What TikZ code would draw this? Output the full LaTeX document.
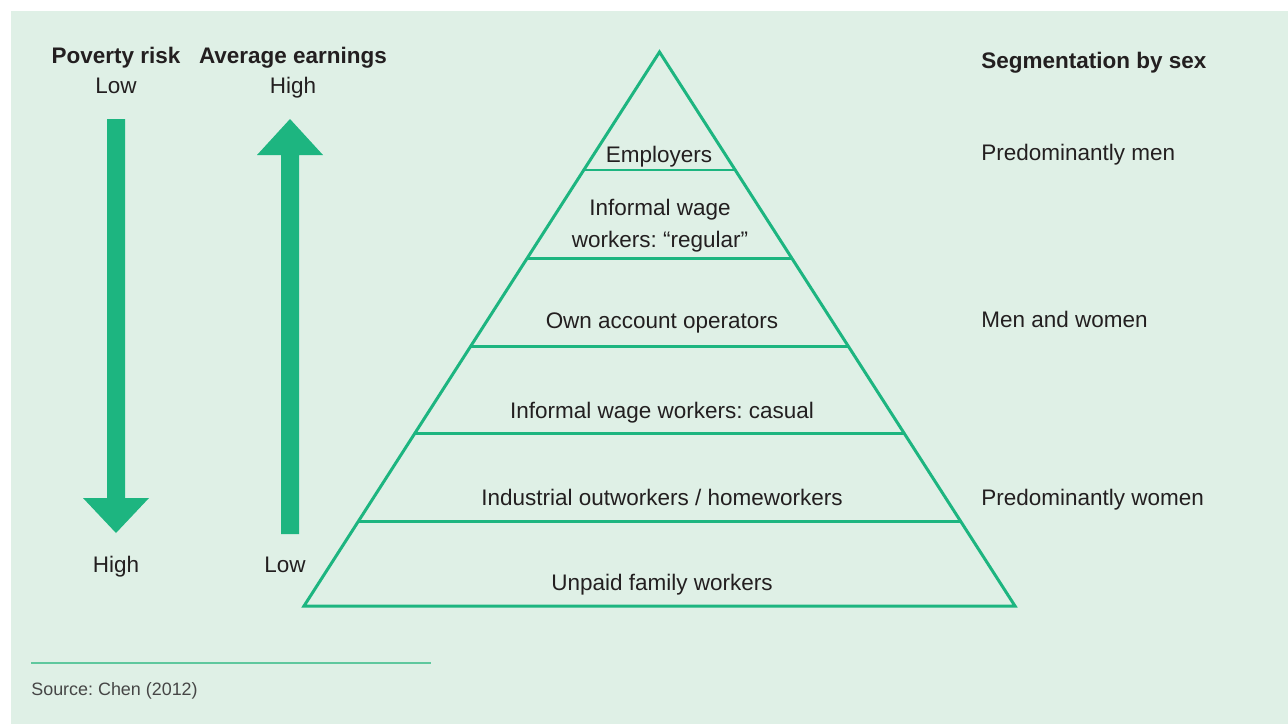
\documentclass[tikz,border=0pt]{standalone}
\usepackage{fontspec}
\setmainfont{Liberation Sans}
\frenchspacing
\definecolor{bggreen}{RGB}{223,240,230}
\definecolor{pyrgreen}{RGB}{29,181,128}
\definecolor{rulegreen}{RGB}{95,200,158}
\definecolor{txtdark}{RGB}{35,31,32}
\definecolor{txtgray}{RGB}{70,70,70}

\begin{document}
\begin{tikzpicture}[x=0.02cm, y=-0.02cm,
    lbl/.style={text=txtdark, inner sep=0pt, anchor=base,
        font=\fontsize{12.8}{18.2}\selectfont},
    hdr/.style={lbl, font=\fontsize{12.8}{18.2}\selectfont\bfseries},
    pyr/.style={draw=pyrgreen, line width=1.7pt, line join=miter},
    bigarrow/.style={fill=pyrgreen, draw=none}]
    % canvas and panel
    \useasboundingbox (0,0) rectangle (1288,724);
    \fill[bggreen] (11,11) rectangle (1288,724);

    % pyramid: apex and base corners
    \pgfmathsetmacro{\apexX}{659.5}
    \pgfmathsetmacro{\apexY}{52}
    \pgfmathsetmacro{\slope}{0.6417}  % half width per unit of height
    \coordinate (apex) at (\apexX,\apexY);
    \coordinate (baseL) at (304,606);
    \coordinate (baseR) at (1015,606);
    \draw[pyr] (apex) -- (baseR) -- (baseL) -- cycle;
    % level lines between the layers
    \foreach \yy in {170,258,346,433,521} {
        \pgfmathsetmacro{\hw}{\slope*(\yy-\apexY)}
        \draw[pyr] (\apexX-\hw,\yy) -- (\apexX+\hw,\yy);
    }

    % layer labels (multi-line node sits on its last baseline)
    \node[lbl] (employers) at (659,162) {Employers};
    \node[lbl, align=center] (regular) at (660,247) {Informal wage\\workers: “regular”};
    \node[lbl] (ownacc) at (662,328) {Own account operators};
    \node[lbl] (casual) at (662,418) {Informal wage workers: casual};
    \node[lbl] (outwork) at (662,505) {Industrial outworkers / homeworkers};
    \node[lbl] (unpaid) at (662,590) {Unpaid family workers};

    % segmentation by sex
    \node[hdr, anchor=base west] (seghdr) at (981,68) {Segmentation by sex};
    \node[lbl, anchor=base west] (segmen) at (981,160) {Predominantly men};
    \node[lbl, anchor=base west] (segboth) at (981,327) {Men and women};
    \node[lbl, anchor=base west] (segwomen) at (981,505) {Predominantly women};

    % poverty risk: arrow pointing down
    \node[hdr] (povhdr) at (116,63) {Poverty risk};
    \node[lbl] (povlow) at (116,93) {Low};
    \node[lbl] (povhigh) at (116,572) {High};
    \fill[bigarrow] (107,119) -- (125,119) -- (125,498) -- (149,498)
        -- (116,533) -- (83,498) -- (107,498) -- cycle;

    % average earnings: arrow pointing up
    \node[hdr] (earnhdr) at (293,63) {Average earnings};
    \node[lbl] (earnhigh) at (293,93) {High};
    \node[lbl] (earnlow) at (285,572) {Low};
    \fill[bigarrow] (281,534) -- (299,534) -- (299,155) -- (323,155)
        -- (290,119) -- (257,155) -- (281,155) -- cycle;

    % source note
    \coordinate (ruleL) at (31,663);
    \coordinate (ruleR) at (431,663);
    \draw[rulegreen, line width=0.8pt] (ruleL) -- (ruleR);
    \node[lbl, anchor=base west, text=txtgray,
        font=\fontsize{10.2}{12}\selectfont] (source) at (31,695) {Source: Chen (2012)};
\end{tikzpicture}
\end{document}
